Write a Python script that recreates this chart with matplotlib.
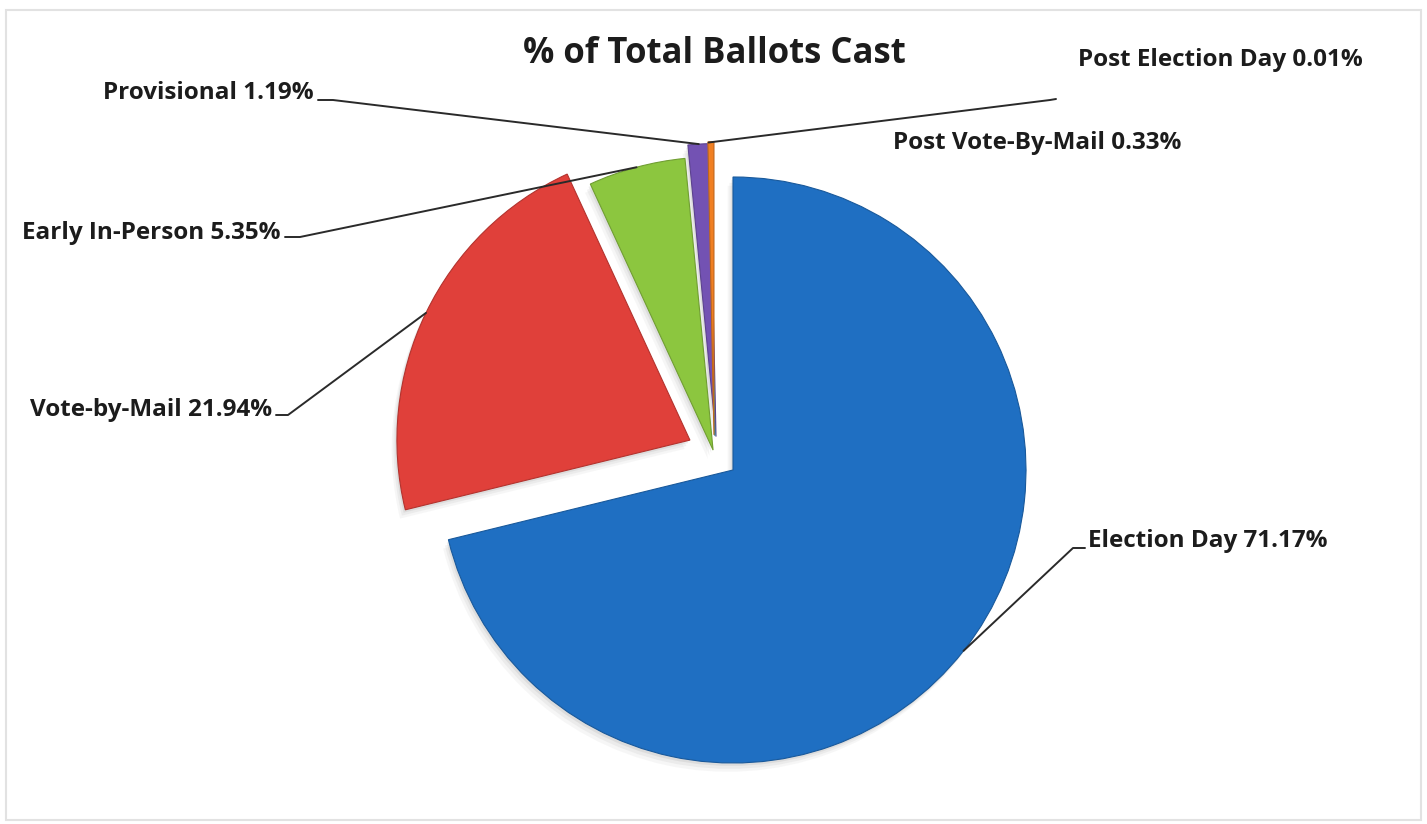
"""% of Total Ballots Cast -- exploded pie with outside leader labels."""

import matplotlib

matplotlib.use("Agg")
import matplotlib.pyplot as plt
import numpy as np
from matplotlib.colors import to_rgb
from matplotlib.patches import Rectangle, Wedge

plt.rcParams["font.family"] = ["Open Sans", "DejaVu Sans"]

# data, clockwise from 12 o'clock
CATEGORIES = [
    "Election Day",
    "Vote-by-Mail",
    "Early In-Person",
    "Provisional",
    "Post Election Day",
    "Post Vote-By-Mail",
]
SHARES = [71.17, 21.94, 5.35, 1.19, 0.01, 0.33]

COLOURS = ["#1f6fc2", "#e0403a", "#8cc63f", "#7352b3", "#4bacc6", "#f07f22"]
# wedge pull-out (dx, dy) in radius units; the original's 3D tilt isn't radial
SHIFTS = [(0, 0), (-0.147, 0.102), (-0.068, 0.068), (-0.058, 0.114), (-0.062, 0.118), (-0.065, 0.12)]

# layout in output pixels (1427x824): pie centre and radius
W_PX, H_PX = 1427, 824
CX, CY, R = 733, 470, 293

# label text anchor (x, y, ha) and leader elbow (start, elbow) in pixels; None = no leader
LABEL_LAYOUT = {
    "Election Day": ((1088, 541, "left"), ((1085, 548), (1073, 548))),
    "Vote-by-Mail": ((272, 410, "right"), ((276, 415), (288, 415))),
    "Early In-Person": ((280, 233, "right"), ((285, 237), (300, 237))),
    "Provisional": ((314, 93, "right"), ((318, 100), (333, 100))),
    "Post Election Day": ((1078, 60, "left"), ((1056, 99), (1050, 100))),
    "Post Vote-By-Mail": ((893, 143, "left"), None),
}
TEXT_COLOUR = "#1c1c1c"


def px(x, y):
    """Pixel position -> data coords (pie radius = 1)."""
    return (x - CX) / R, (CY - y) / R


def darker(c, f=0.8):
    return tuple(v * f for v in to_rgb(c))


fig = plt.figure(figsize=(W_PX / 100, H_PX / 100), dpi=100, facecolor="white")
ax = fig.add_axes([0, 0, 1, 1])

wedges, _ = ax.pie(
    SHARES,
    colors=COLOURS,
    startangle=90,
    counterclock=False,
    wedgeprops=dict(linewidth=0.8),
)
for w, (dx, dy), c in zip(wedges, SHIFTS, COLOURS):
    w.set_center((dx, dy))
    w.set_edgecolor(darker(c))
    w.set_zorder(3)
    # soft drop shadow
    for k, a in ((1, 0.10), (2, 0.07), (3, 0.05)):
        ax.add_patch(
            Wedge((dx - 0.006 * k, dy - 0.01 * k), 1.0, w.theta1, w.theta2,
                  facecolor="#606060", edgecolor="none", alpha=a, zorder=1)
        )

# labels and leader lines to the middle of each wedge's arc
for name, share, w in zip(CATEGORIES, SHARES, wedges):
    (tx, ty, ha), leader = LABEL_LAYOUT[name]
    x, y = px(tx, ty)
    ax.text(x, y, f"{name} {share:.2f}%", ha=ha, va="center", fontsize=17.5,
            fontweight="bold", color=TEXT_COLOUR, zorder=5)
    if leader is None:
        continue
    mid = np.deg2rad((w.theta1 + w.theta2) / 2)
    cx, cy = w.center
    tip = (cx + np.cos(mid), cy + np.sin(mid))
    p0, p1 = px(*leader[0]), px(*leader[1])
    ax.plot([p0[0], p1[0], tip[0]], [p0[1], p1[1], tip[1]], color="#2a2a2a",
            lw=1.4, zorder=4, solid_capstyle="round")

tx, ty = px(714, 54)
ax.text(tx, ty, "% of Total Ballots Cast", ha="center", va="center", fontsize=25,
        fontweight="bold", color=TEXT_COLOUR, zorder=5)

x0, y0 = px(0, H_PX)
x1, y1 = px(W_PX, 0)
ax.set_xlim(x0, x1)
ax.set_ylim(y0, y1)
ax.set_aspect("auto")
ax.axis("off")

# faint chart-area border
bx0, by0 = px(6, 820)
bx1, by1 = px(1421, 10)
ax.add_patch(Rectangle((bx0, by0), bx1 - bx0, by1 - by0, fill=False,
                       edgecolor="#e2e2e2", lw=1.5, zorder=0))

fig.savefig("out.png", dpi=100, facecolor="white")
